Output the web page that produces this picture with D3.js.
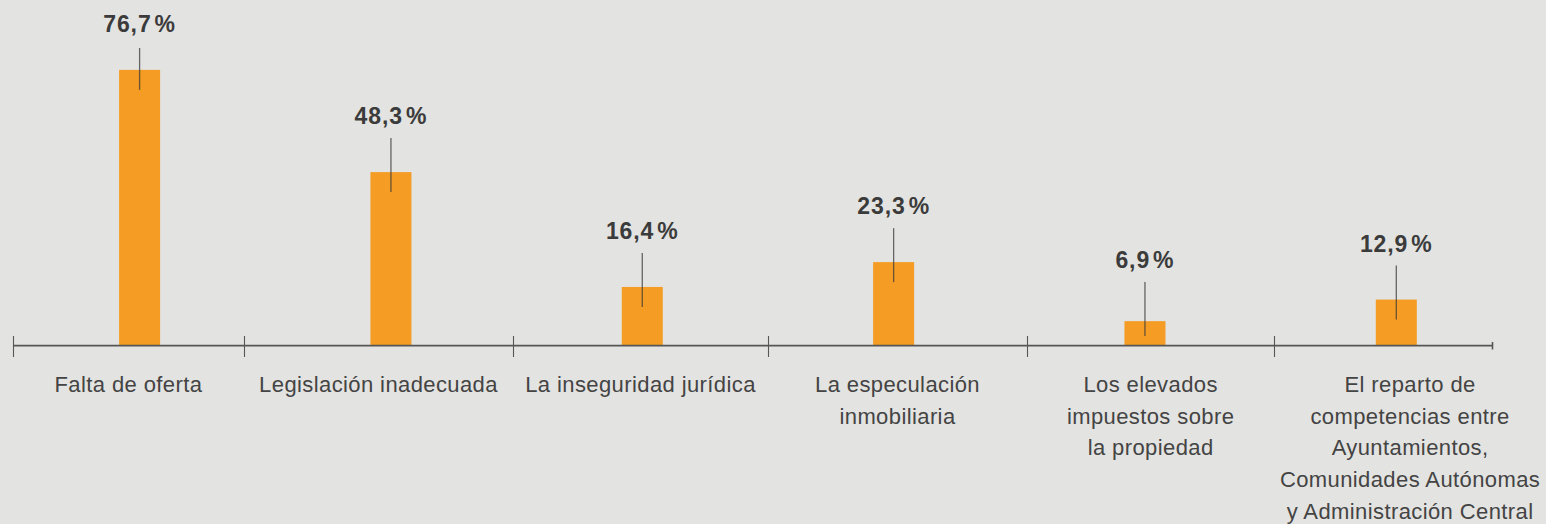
<!DOCTYPE html>
<html lang="es">
<head>
<meta charset="utf-8">
<script src="https://cdn.jsdelivr.net/npm/d3@7/dist/d3.min.js"></script>
<style>
  html, body { margin: 0; padding: 0; background: #e3e3e1; }
  svg { display: block; }
  text { font-family: "Helvetica Neue", Helvetica, "Liberation Sans", Arial, sans-serif; }
</style>
</head>
<body>
<svg id="chart" width="1546" height="524"></svg>
<script>
// Categories (line breaks as typeset under the axis)
const categories = [
  ["Falta de oferta"],
  ["Legislación inadecuada"],
  ["La inseguridad jurídica"],
  ["La especulación", "inmobiliaria"],
  ["Los elevados", "impuestos sobre", "la propiedad"],
  ["El reparto de", "competencias entre", "Ayuntamientos,", "Comunidades Autónomas", "y Administración Central"]
];

// Share of respondents, in percent
const values = [76.7, 48.3, 16.4, 23.3, 6.9, 12.9];

// Axis dividers between categories, in category-index units
const dividers = [-0.504, 0.415, 1.486, 2.500, 3.531, 4.514];
const axisEnd = 5.381;

const W = 1546, H = 524;
const baseY = 346;
const barWidth = 41;

const svg = d3.select("#chart");

const ids = d3.range(categories.length);
const xIndex = d3.scaleLinear().domain([0, ids.length - 1]).range([139.6, 1396.3]);
const y = d3.scaleLinear().domain([0, 100]).range([baseY, baseY - 360]);

const fmt = v => d3.format(".1f")(v).replace(".", ",");

// Bars
svg.append("g")
  .selectAll("rect")
  .data(values)
  .join("rect")
  .attr("x", (d, i) => xIndex(i) - barWidth / 2)
  .attr("y", d => y(d))
  .attr("width", barWidth)
  .attr("height", d => y(0) - y(d))
  .attr("fill", "#f49c23");

// Axis line with category dividers
const axis = svg.append("g").attr("stroke", "#565656");
axis.append("line")
  .attr("x1", xIndex(dividers[0])).attr("x2", xIndex(axisEnd))
  .attr("y1", baseY - 0.3).attr("y2", baseY - 0.3)
  .attr("stroke-width", 1.7);
axis.selectAll("line.div")
  .data(dividers)
  .join("line")
  .attr("class", "div")
  .attr("x1", d => Math.round(xIndex(d)) + 0.5).attr("x2", d => Math.round(xIndex(d)) + 0.5)
  .attr("y1", baseY - 10).attr("y2", baseY + 11)
  .attr("stroke-width", 1.1);
axis.append("line")
  .attr("x1", Math.round(xIndex(axisEnd)) + 0.5).attr("x2", Math.round(xIndex(axisEnd)) + 0.5)
  .attr("y1", baseY - 4).attr("y2", baseY + 3.5)
  .attr("stroke-width", 1.6);

// Value labels with leader lines
const leaderLen = 54;
const labels = values.map((v, i) => {
  let bottom = Math.min(y(v) + 20, baseY - 10);
  let top = bottom - leaderLen;
  let base = top - 14;
  if (base < 32) { base = 32; top = base + 16; }
  return { v, i, bottom, top, base };
});

const lab = svg.append("g");
lab.selectAll("line")
  .data(labels)
  .join("line")
  .attr("x1", d => xIndex(d.i)).attr("x2", d => xIndex(d.i))
  .attr("y1", d => d.top).attr("y2", d => d.bottom)
  .attr("stroke", "#3a3a3a")
  .attr("stroke-opacity", 0.75)
  .attr("stroke-width", 1.3);

const vt = lab.selectAll("text")
  .data(labels)
  .join("text")
  .attr("x", d => xIndex(d.i))
  .attr("y", d => d.base)
  .attr("text-anchor", "middle")
  .attr("font-size", 23)
  .attr("font-weight", "bold")
  .attr("letter-spacing", 0.9)
  .attr("fill", "#3b3b3b");
vt.append("tspan").text(d => fmt(d.v));
vt.append("tspan").attr("dx", 3).text("%");

// Category labels, centred in the span between their dividers
// (the last span runs to the right edge of the page)
const spanEdges = dividers.map(d => xIndex(d)).concat([W]);
const labelX = i => (spanEdges[i] + spanEdges[i + 1]) / 2;
const lineH = 31.7;
svg.append("g")
  .selectAll("text")
  .data(categories)
  .join("text")
  .attr("x", (d, i) => labelX(i))
  .attr("y", 392)
  .attr("text-anchor", "middle")
  .attr("font-size", 22)
  .attr("letter-spacing", 0.4)
  .attr("fill", "#444444")
  .each(function (lines, i) {
    d3.select(this).selectAll("tspan")
      .data(lines)
      .join("tspan")
      .attr("x", labelX(i))
      .attr("dy", (l, k) => k === 0 ? 0 : lineH)
      .text(l => l);
  });
</script>
</body>
</html>
